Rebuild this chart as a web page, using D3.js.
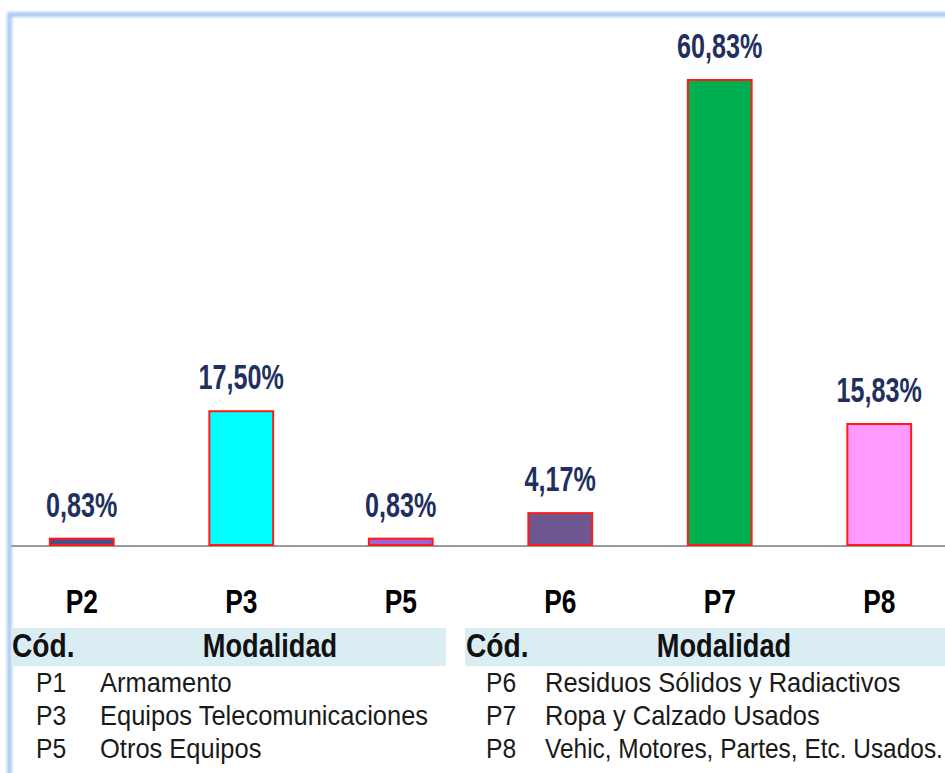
<!DOCTYPE html>
<html lang="es">
<head>
    <meta charset="utf-8">
    <title>Modalidades</title>
    <script src="https://d3js.org/d3.v7.min.js"></script>
    <style>
        html, body { margin: 0; padding: 0; background: #fff; }
        text { font-family: "Liberation Sans", Arial, sans-serif; }
        .val { font-weight: bold; font-size: 34px; fill: #1f3060; }
        .cat { font-weight: bold; font-size: 31px; fill: #000; }
        .head { font-weight: bold; font-size: 32px; fill: #111; }
        .row { font-size: 26px; fill: #1a1a1a; }
    </style>
</head>
<body>
<script>
    // chart data
    var categories = ["P2", "P3", "P5", "P6", "P7", "P8"];
    var values = [0.83, 17.50, 0.83, 4.17, 60.83, 15.83];
    var barColors = ["#46508a", "#00ffff", "#9b63d6", "#6e5690", "#00b050", "#ff99ff"];

    // legend tables
    var leftCodes = ["P1", "P3", "P5"];
    var leftNames = ["Armamento", "Equipos Telecomunicaciones", "Otros Equipos"];
    var rightCodes = ["P6", "P7", "P8"];
    var rightNames = ["Residuos Sólidos y Radiactivos", "Ropa y Calzado Usados", "Vehic, Motores, Partes, Etc. Usados."];

    var W = 945, H = 773;
    var baseY = 545, topY = 80;

    var svg = d3.select("body").append("svg").attr("width", W).attr("height", H);

    var defs = svg.append("defs");
    var blur = defs.append("filter").attr("id", "soft").attr("x", "-5%").attr("y", "-5%").attr("width", "110%").attr("height", "110%");
    blur.append("feGaussianBlur").attr("stdDeviation", 1.5);

    // frame
    svg.append("path")
        .attr("d", "M9.5," + (H + 20) + " L9.5,14.5 L" + (W + 20) + ",14.5")
        .attr("fill", "none")
        .attr("stroke", "#abcbf2")
        .attr("stroke-width", 5)
        .attr("filter", "url(#soft)");

    // narrow-looking text: squeeze horizontally, stretch a bit vertically
    function narrowText(parent, cls, tx, ty, str, sx, sy, anchor, maxW) {
        var t = parent.append("text")
            .attr("class", cls)
            .attr("text-anchor", anchor || "start")
            .text(str);
        if (maxW) {
            var len = t.node().getComputedTextLength();
            if (len * sx > maxW) sx = maxW / len;
        }
        t.attr("transform", "translate(" + tx + "," + ty + ") scale(" + sx + "," + sy + ")");
        return t;
    }

    var x = d3.scaleBand()
        .domain(categories)
        .range([2, 959])
        .paddingInner(0.6)
        .paddingOuter(0.3);

    var y = d3.scaleLinear()
        .domain([0, d3.max(values)])
        .range([baseY, topY]);

    var data = categories.map(function(c, i) { return {cat: c, v: values[i], color: barColors[i]}; });

    // axis line
    svg.append("line")
        .attr("x1", 11).attr("x2", W)
        .attr("y1", baseY + 1).attr("y2", baseY + 1)
        .attr("stroke", "#9a9a9a").attr("stroke-width", 2);

    svg.selectAll("rect.bar").data(data).enter().append("rect")
        .attr("class", "bar")
        .attr("x", function(d) { return x(d.cat); })
        .attr("y", function(d) { return y(d.v); })
        .attr("width", x.bandwidth())
        .attr("height", function(d) { return baseY - y(d.v); })
        .attr("fill", function(d) { return d.color; })
        .attr("stroke", "#ff1a1a")
        .attr("stroke-width", 2);

    var fmt = function(v) { return v.toFixed(2).replace(".", ",") + "%"; };

    data.forEach(function(d) {
        var cx = x(d.cat) + x.bandwidth() / 2;
        narrowText(svg, "val", cx, y(d.v) - 22, fmt(d.v), 0.74, 1.02, "middle");
        narrowText(svg, "cat", cx, 613, d.cat, 0.85, 1.05, "middle");
    });

    // tables
    function table(x0, x1, codeX, nameX, codes, names) {
        var g = svg.append("g");
        g.append("rect").attr("x", x0).attr("y", 628).attr("width", x1 - x0).attr("height", 38).attr("fill", "#daedf3");
        narrowText(g, "head", x0 + 1, 657, "Cód.", 0.88, 1.03);
        narrowText(g, "head", x0 + 259, 657, "Modalidad", 0.85, 1.03, "middle");
        codes.forEach(function(c, i) {
            narrowText(g, "row", codeX, 692 + i * 33, c, 0.95, 1.04);
            narrowText(g, "row", nameX, 692 + i * 33, names[i], 0.98, 1.04, "start", W - nameX - 2);
        });
    }
    table(11, 446, 36, 100, leftCodes, leftNames);
    table(465, 960, 486, 545, rightCodes, rightNames);
</script>
</body>
</html>
